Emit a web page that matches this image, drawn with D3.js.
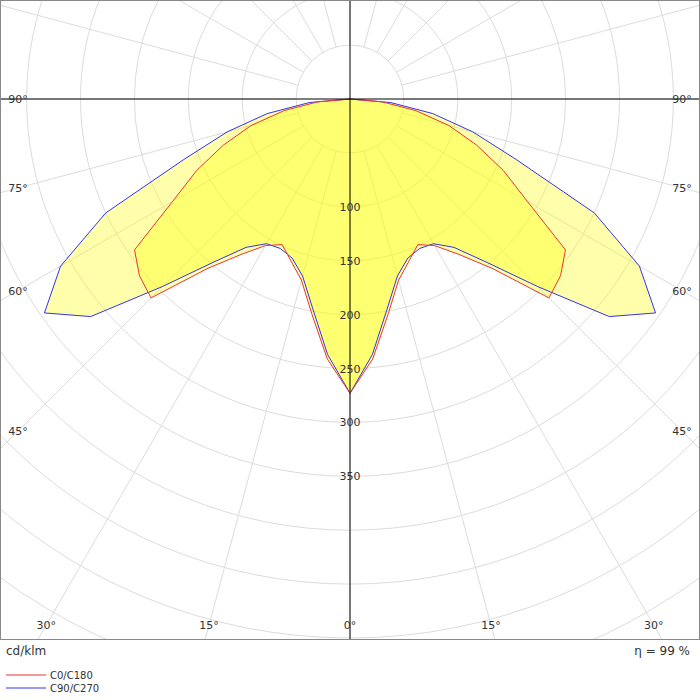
<!DOCTYPE html>
<html><head><meta charset="utf-8">
<script src="https://cdn.jsdelivr.net/npm/d3@7"></script>
<style>body{margin:0;background:#fff}</style></head>
<body><svg id="c" width="700" height="700"></svg>
<script>
const angles = [0,5,10,15,20,25,30,35,40,45,50,55,60,65,70,75,80,85,90];
const c0c180 = [273,242,203,174,160,149,157,176,205,261,255,244,190,157,125,95,62,30,0];
const c90c270 = [273,238,198,170,157,153,155,168,198,246,314,346,310,250,164,118,78,38,0];
const radialTicks = [100,150,200,250,300,350];
const angleTicksBottom = [-30,-15,0,15,30];
const angleTicksSide = [45,60,75,90];
const svg = d3.select("#c");
const cx=350, cy=99, W=700, H=640;
const r = d3.scaleLinear().domain([0,100]).range([0,107.8]);
const font="DejaVu Sans, sans-serif";
svg.append("defs").append("clipPath").attr("id","cl").append("rect").attr("x",0).attr("y",0).attr("width",W).attr("height",H);
const g = svg.append("g").attr("clip-path","url(#cl)");
d3.range(50,1001,50).forEach(v=>g.append("circle").attr("cx",cx).attr("cy",cy).attr("r",r(v)).attr("fill","none").attr("stroke","#dcdcdc"));
d3.range(0,360,15).forEach(a=>{const t=a*Math.PI/180;
  g.append("line").attr("x1",cx+r(50)*Math.sin(t)).attr("y1",cy+r(50)*Math.cos(t)).attr("x2",cx+1200*Math.sin(t)).attr("y2",cy+1200*Math.cos(t)).attr("stroke","#dcdcdc");});
function pts(vals){const right=angles.map((a,i)=>[a*Math.PI/180,vals[i]]);
  const left=right.slice().reverse().map(([t,v])=>[-t,v]);
  return left.concat(right.slice(1));}
const line=d3.lineRadial().angle(d=>Math.PI-d[0]).radius(d=>r(d[1]));
const pg=g.append("g").attr("transform",`translate(${cx},${cy})`);
pg.append("path").attr("d",line(pts(c90c270))+"Z").attr("fill","rgba(255,255,0,0.33)").attr("stroke","none");
pg.append("path").attr("d",line(pts(c0c180))+"Z").attr("fill","rgba(255,255,0,0.33)").attr("stroke","none");
pg.append("path").attr("d",line(pts(c90c270))).attr("fill","none").attr("stroke","#3333ee");
pg.append("path").attr("d",line(pts(c0c180))).attr("fill","none").attr("stroke","#ee3333");
g.append("line").attr("x1",0).attr("x2",W).attr("y1",cy).attr("y2",cy).attr("stroke","#000");
g.append("line").attr("x1",cx).attr("x2",cx).attr("y1",0).attr("y2",H).attr("stroke","#000");
radialTicks.forEach(v=>svg.append("text").attr("x",cx).attr("y",cy+r(v)+4).attr("text-anchor","middle").attr("font-family",font).attr("font-size",11).attr("fill","#333").text(v));
angleTicksBottom.forEach(a=>{const x=cx+(H-cy-15)*Math.tan(a*Math.PI/180);
  svg.append("text").attr("x",x).attr("y",629).attr("text-anchor","middle").attr("font-family",font).attr("font-size",11).attr("fill","#333").text(Math.abs(a)+"°");});
angleTicksSide.forEach(a=>{const y=cy+(cx-18)/Math.tan(a*Math.PI/180);
  [18,682].forEach(x=>svg.append("text").attr("x",x).attr("y",y+4).attr("text-anchor","middle").attr("font-family",font).attr("font-size",11).attr("fill","#333").text(a+"°"));});
svg.append("rect").attr("x",0.5).attr("y",0.5).attr("width",W-1).attr("height",H-1).attr("fill","none").attr("stroke","#888");
svg.append("text").attr("x",6).attr("y",655).attr("font-family",font).attr("font-size",12).attr("fill","#333").text("cd/klm");
svg.append("text").attr("x",690).attr("y",655).attr("text-anchor","end").attr("font-family",font).attr("font-size",12).attr("fill","#333").text("η = 99 %");
[["C0/C180","#ee3333",675],["C90/C270","#3333ee",688]].forEach(([t,c,y])=>{
  svg.append("line").attr("x1",6).attr("x2",46).attr("y1",y).attr("y2",y).attr("stroke",c);
  svg.append("text").attr("x",50).attr("y",y+4).attr("font-family",font).attr("font-size",10).attr("fill","#333").text(t);});
</script></body></html>
